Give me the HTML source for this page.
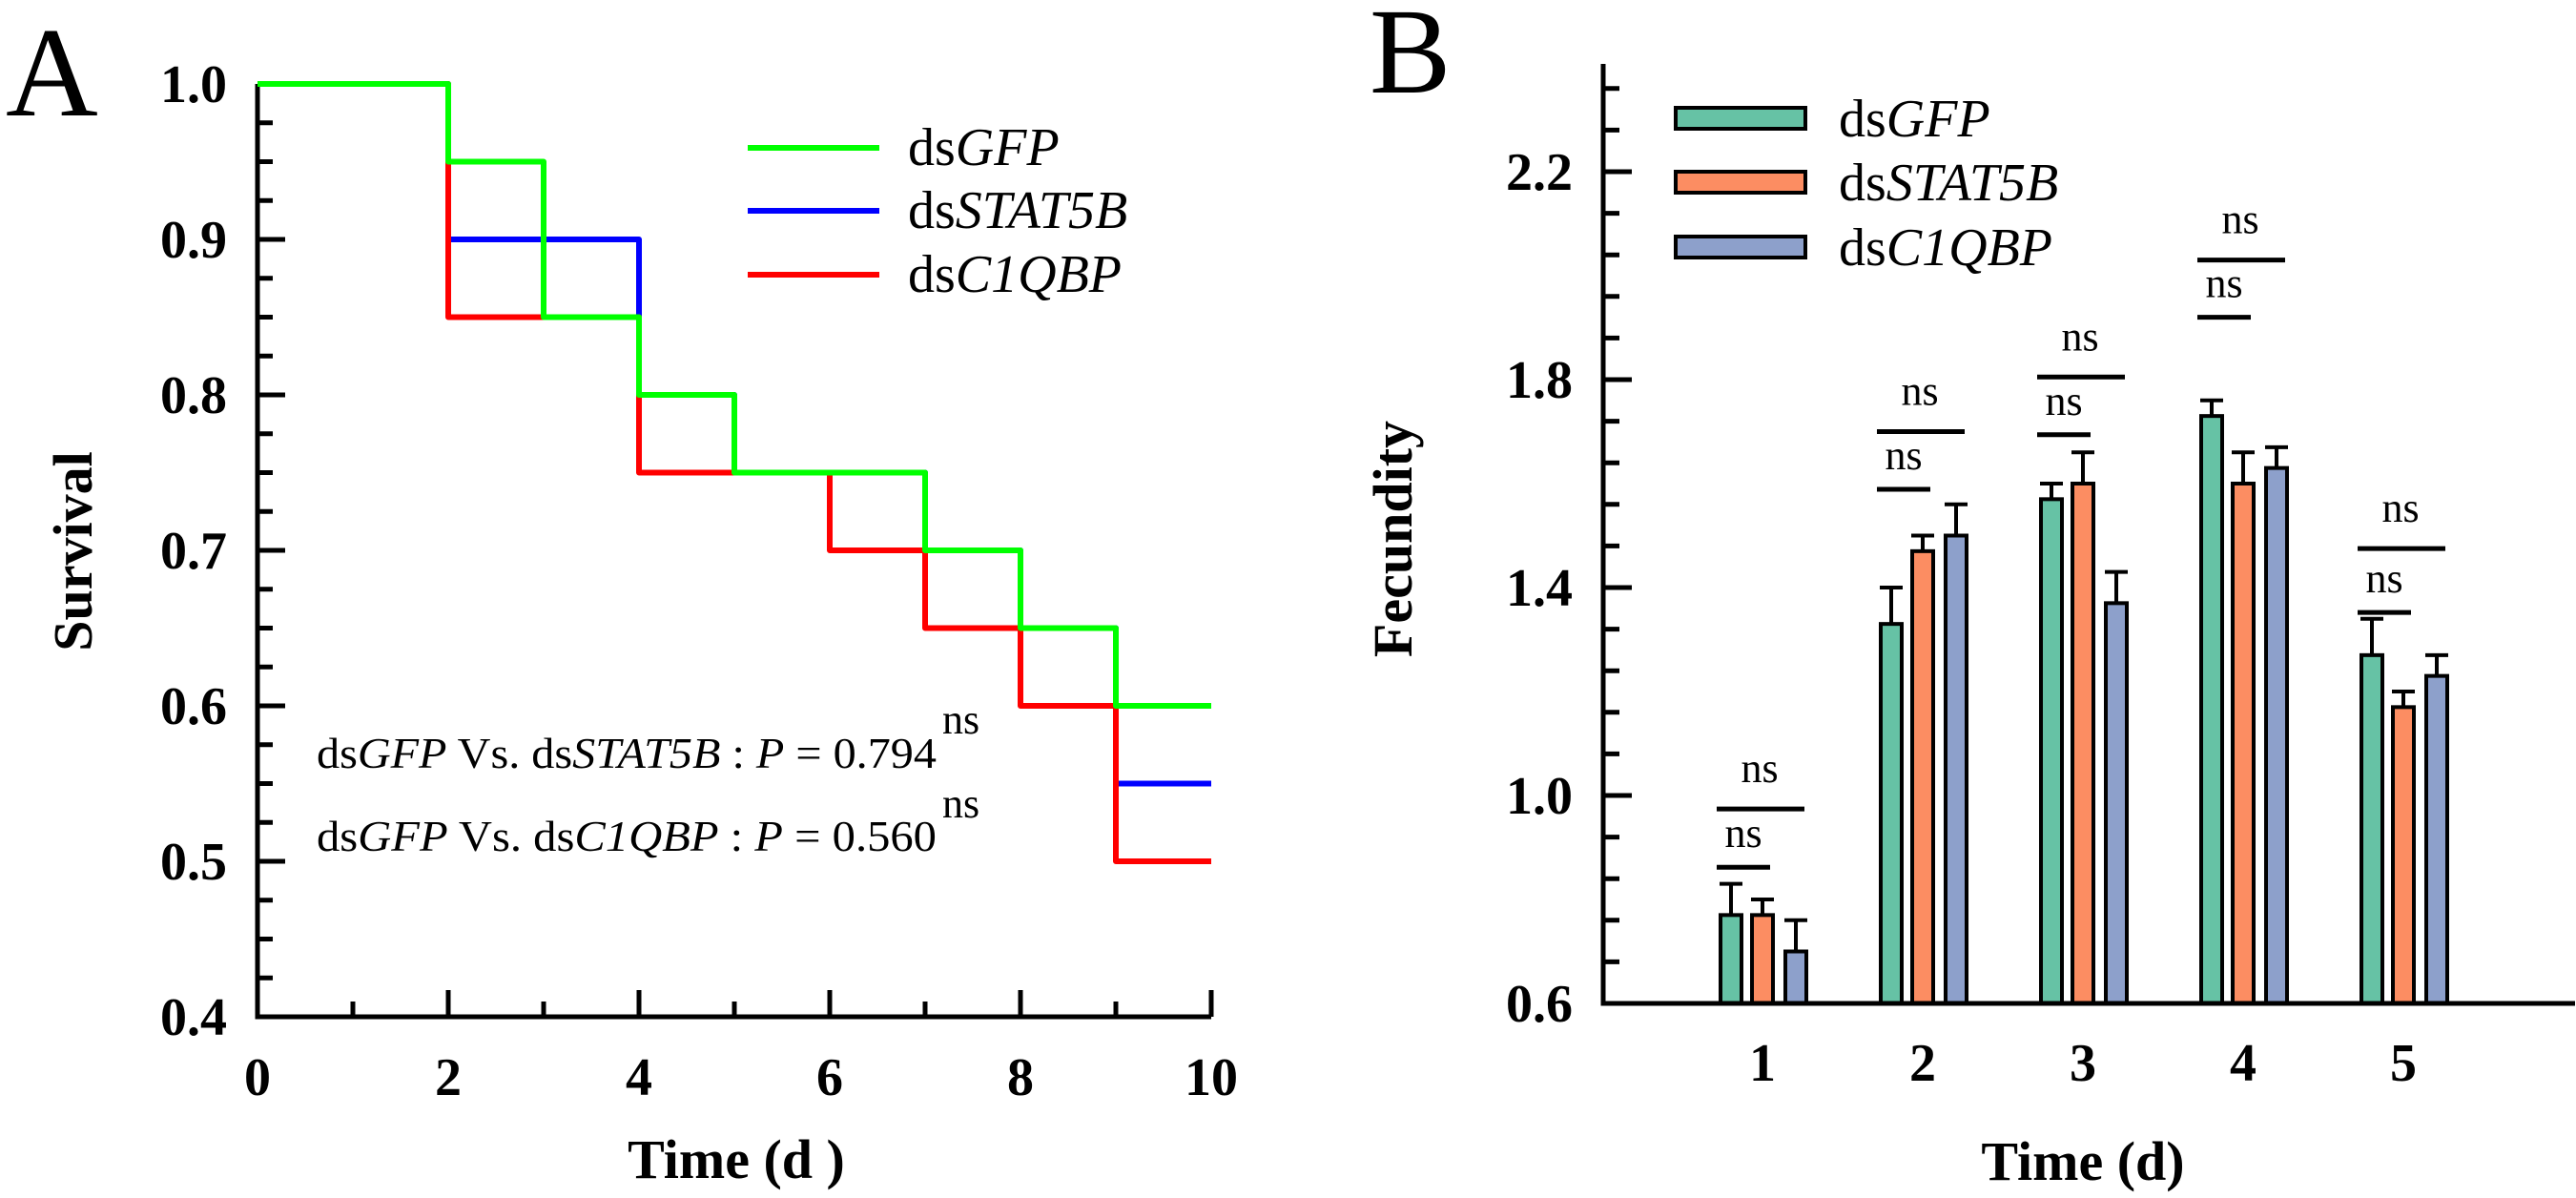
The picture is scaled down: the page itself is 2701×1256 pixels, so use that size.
<!DOCTYPE html>
<html><head><meta charset="utf-8"><style>
html,body{margin:0;padding:0;background:#fff;}
svg{display:block;}
svg text{font-family:"Liberation Serif","Times New Roman",serif;}
</style></head><body>
<svg id="fig" width="2701" height="1256" viewBox="0 0 2701 1256" xmlns="http://www.w3.org/2000/svg" font-family="Liberation Serif, serif">
<g id="pa"></g>
<g id="pb"></g>
</svg>
<script>
// ---------- Panel A data ----------
const survTimes = [0,1,2,3,4,5,6,7,8,9,10];
const survGFP    = [1.0,1.0,0.95,0.85,0.80,0.75,0.75,0.70,0.65,0.60,0.60];
const survSTAT5B = [1.0,1.0,0.90,0.90,0.80,0.75,0.75,0.70,0.65,0.55,0.55];
const survC1QBP  = [1.0,1.0,0.85,0.85,0.75,0.75,0.70,0.65,0.60,0.50,0.50];
const survYTicks = ["0.4","0.5","0.6","0.7","0.8","0.9","1.0"];
const survXTicks = ["0","2","4","6","8","10"];
// ---------- Panel B data ----------
const fecDays = ["1","2","3","4","5"];
const fecGFP    = [0.77,1.33,1.57,1.73,1.27];
const fecSTAT5B = [0.77,1.47,1.60,1.60,1.17];
const fecC1QBP  = [0.70,1.50,1.37,1.63,1.23];
const errGFP    = [0.06,0.07,0.03,0.03,0.07];
const errSTAT5B = [0.03,0.03,0.06,0.06,0.03];
const errC1QBP  = [0.06,0.06,0.06,0.04,0.04];
const nsShort = [0.862,1.589,1.694,1.92,1.352];
const nsLong  = [0.974,1.70,1.805,2.03,1.475];
const fecYTicks = ["0.6","1.0","1.4","1.8","2.2"];

const NS="http://www.w3.org/2000/svg";
function mk(parent,tag,attrs,text){const e=document.createElementNS(NS,tag);for(const k in attrs)e.setAttribute(k,attrs[k]);if(tag==='text')e.setAttribute('font-family','Liberation Serif, serif');if(text!==undefined)e.textContent=text;parent.appendChild(e);return e;}

// ===== Panel A =====
const pa=document.getElementById('pa');
const ax=t=>270+t*100;
const ay=v=>1066-(v-0.4)*1630;
let t=mk(pa,'text',{x:6,y:121,'font-size':134},'A');


for(let i=0;i<=24;i++){const v=0.4+i*0.025;const major=i%4===0;
 const l=mk(pa,'line',{x1:270,x2:270+(major?29:16),y1:ay(v),y2:ay(v),stroke:'#000','stroke-width':5});
 
 }
survYTicks.forEach(s=>{const e=mk(pa,'text',{x:238,y:ay(+s)+19,'font-size':56,'font-weight':'bold','text-anchor':'end'},s);
 
 });
for(let i=1;i<=10;i++){const major=i%2===0;
 const l=mk(pa,'line',{x1:ax(i),x2:ax(i),y1:1066,y2:1066-(major?28:16),stroke:'#000','stroke-width':5});
 
 }
survXTicks.forEach(s=>{const e=mk(pa,'text',{x:ax(+s),y:1148,'font-size':56,'font-weight':'bold','text-anchor':'middle'},s);
 
 });
let axl=mk(pa,'path',{d:`M270 ${ay(1.0)} V1066 H${ax(10)}`,fill:'none',stroke:'#000','stroke-width':5});


function stepPath(vals){let d=`M${ax(survTimes[0])} ${ay(vals[0])}`;
 for(let i=1;i<survTimes.length;i++){d+=` H${ax(survTimes[i])} V${ay(vals[i])}`;}return d;}
[[survSTAT5B,'#0000ff','curve-dsstat5b'],[survC1QBP,'#ff0000','curve-dsc1qbp'],[survGFP,'#00ff00','curve-dsgfp']].forEach(([v,c,n])=>{
 const p=mk(pa,'path',{d:stepPath(v),fill:'none',stroke:c,'stroke-width':6,'stroke-linejoin':'round'});
 
 });
[['#00ff00','GFP',155],['#0000ff','STAT5B',221],['#ff0000','C1QBP',288]].forEach(([c,lab,y])=>{
 const g=mk(pa,'g',{});
 
 
 mk(g,'line',{x1:784,x2:922,y1:y,y2:y,stroke:c,'stroke-width':6});
 const tx=mk(g,'text',{x:952,y:y+18,'font-size':56},'ds');
 mk(tx,'tspan',{'font-style':'italic'},lab);});
function annot(y,gene,val,nsy){const g=mk(pa,'g',{});
 
 
 const tx=mk(g,'text',{x:332,y:y,'font-size':46,textLength:650,lengthAdjust:'spacingAndGlyphs'});
 tx.appendChild(document.createTextNode('ds'));mk(tx,'tspan',{'font-style':'italic'},'GFP');
 tx.appendChild(document.createTextNode('  Vs. ds'));mk(tx,'tspan',{'font-style':'italic'},gene);
 tx.appendChild(document.createTextNode(' : '));mk(tx,'tspan',{'font-style':'italic'},'P');
 tx.appendChild(document.createTextNode(' = '+val));
 mk(g,'text',{x:988,y:nsy,'font-size':44},'ns');}
annot(805,'STAT5B','0.794',769);
annot(892,'C1QBP','  0.560',857);
let ya=mk(pa,'text',{transform:'translate(96,578) rotate(-90)','font-size':58,'font-weight':'bold','text-anchor':'middle'},'Survival');


let xa=mk(pa,'text',{x:772,y:1235,'font-size':58,'font-weight':'bold','text-anchor':'middle'},'Time (d )');



// ===== Panel B =====
const pb=document.getElementById('pb');
const bx=i=>1848+i*168;
const by=v=>1052-(v-0.6)*545;
let tb=mk(pb,'text',{x:1436,y:97,'font-size':128},'B');


for(let i=0;i<=22;i++){const v=0.6+i*0.08;const major=i%5===0;
 const l=mk(pb,'line',{x1:1681,x2:1681+(major?30:17),y1:by(v),y2:by(v),stroke:'#000','stroke-width':5});
 
 }
fecYTicks.forEach(s=>{const e=mk(pb,'text',{x:1649,y:by(+s)+19,'font-size':56,'font-weight':'bold','text-anchor':'end'},s);
 
 });
fecDays.forEach((s,i)=>{const e=mk(pb,'text',{x:bx(i),y:1133,'font-size':56,'font-weight':'bold','text-anchor':'middle'},s);
 
 });
const series=[[fecGFP,errGFP,'#66c2a5',-33,'gfp'],[fecSTAT5B,errSTAT5B,'#fc8d62',0,'stat5b'],[fecC1QBP,errC1QBP,'#8da0cb',35,'c1qbp']];
series.forEach(([vals,errs,col,off,n])=>{vals.forEach((v,i)=>{
 const cx=bx(i)+off;
 const el=mk(pb,'line',{x1:cx,x2:cx,y1:by(v),y2:by(v+errs[i]),stroke:'#000','stroke-width':4});
 
 
 const ec=mk(pb,'line',{x1:cx-12,x2:cx+12,y1:by(v+errs[i]),y2:by(v+errs[i]),stroke:'#000','stroke-width':4});
 
 
 const r=mk(pb,'rect',{x:cx-11,y:by(v),width:22,height:by(0.6)-by(v),fill:col,stroke:'#000','stroke-width':4});
 
 });});
fecDays.forEach((d,i)=>{const c=bx(i);
 const l1=mk(pb,'line',{x1:c-48,x2:c+8,y1:by(nsShort[i]),y2:by(nsShort[i]),stroke:'#000','stroke-width':5});
 
 
 const t1=mk(pb,'text',{x:c-20,y:by(nsShort[i])-21,'font-size':44,'text-anchor':'middle'},'ns');
 
 
 const l2=mk(pb,'line',{x1:c-48,x2:c+44,y1:by(nsLong[i]),y2:by(nsLong[i]),stroke:'#000','stroke-width':5});
 
 
 const t2=mk(pb,'text',{x:c-3,y:by(nsLong[i])-28,'font-size':44,'text-anchor':'middle'},'ns');
 
 });
let axb=mk(pb,'path',{d:`M1681 67 V1052 H2700`,fill:'none',stroke:'#000','stroke-width':5});


[['#66c2a5','GFP',124],['#fc8d62','STAT5B',191],['#8da0cb','C1QBP',259]].forEach(([c,lab,y])=>{
 const g=mk(pb,'g',{});
 
 
 mk(g,'rect',{x:1757,y:y-11,width:136,height:22,fill:c,stroke:'#000','stroke-width':4});
 const tx=mk(g,'text',{x:1928,y:y+19,'font-size':56},'ds');
 mk(tx,'tspan',{'font-style':'italic'},lab);});
let yb=mk(pb,'text',{transform:'translate(1480,565) rotate(-90)','font-size':58,'font-weight':'bold','text-anchor':'middle'},'Fecundity');


let xb=mk(pb,'text',{x:2184,y:1237,'font-size':58,'font-weight':'bold','text-anchor':'middle'},'Time (d)');


</script>
</body></html>
